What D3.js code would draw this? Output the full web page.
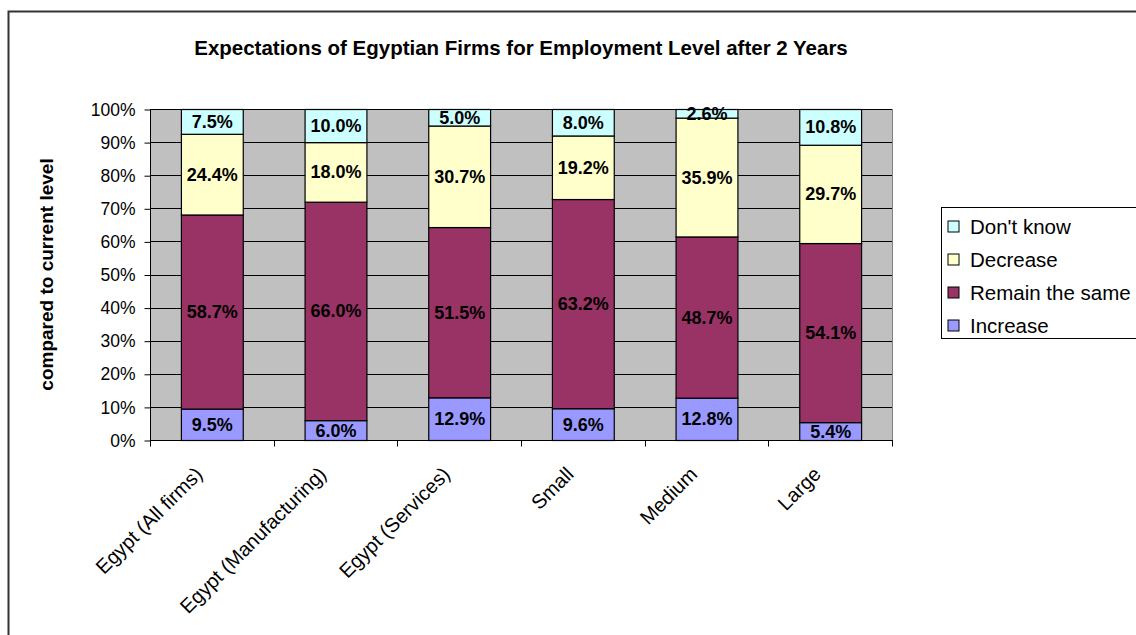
<!DOCTYPE html>
<html>
<head>
<meta charset="utf-8">
<script src="https://cdn.jsdelivr.net/npm/d3@7"></script>
<style>
  html, body { margin: 0; padding: 0; background: #fff; }
  svg { display: block; font-family: Arial, "Liberation Sans", sans-serif; }
</style>
</head>
<body>
<svg id="chart" width="1136" height="635"></svg>
<script>
// Firm-size and sector groups
const categories = ["Egypt (All firms)", "Egypt (Manufacturing)", "Egypt (Services)", "Small", "Medium", "Large"];

// Share of firms (%) by expectation, stacked bottom to top
const increase  = [9.5, 6.0, 12.9, 9.6, 12.8, 5.4];
const remain    = [58.7, 66.0, 51.5, 63.2, 48.7, 54.1];
const decrease  = [24.4, 18.0, 30.7, 19.2, 35.9, 29.7];
const dontKnow  = [7.5, 10.0, 5.0, 8.0, 2.6, 10.8];

const seriesNames = ["Increase", "Remain the same", "Decrease", "Don't know"];
const seriesColors = ["#9999FF", "#993366", "#FFFFCC", "#CCFFFF"];
const yTicks = [0, 10, 20, 30, 40, 50, 60, 70, 80, 90, 100];

const svg = d3.select("#chart");

// Outer frame around the chart object
svg.append("rect")
  .attr("x", 8.5).attr("y", 11.5).attr("width", 1200).attr("height", 700)
  .attr("fill", "#fff").attr("stroke", "#333").attr("stroke-width", 2);

const plot = { left: 150, top: 109, right: 892, bottom: 440 };

const rows = categories.map((c, i) => ({
  cat: c,
  "Increase": increase[i],
  "Remain the same": remain[i],
  "Decrease": decrease[i],
  "Don't know": dontKnow[i]
}));

// 100% stacked: each column is normalised to its own total
const stack = d3.stack().keys(seriesNames).offset(d3.stackOffsetExpand);
const layers = stack(rows);

const x = d3.scaleBand().domain(categories).range([plot.left, plot.right]).paddingInner(0.5).paddingOuter(0.25);
const xBand = d3.scaleBand().domain(categories).range([plot.left, plot.right]);
const y = d3.scaleLinear().domain([0, 1]).range([plot.bottom, plot.top]);

// Plot background
svg.append("rect")
  .attr("x", plot.left).attr("y", plot.top)
  .attr("width", plot.right - plot.left).attr("height", plot.bottom - plot.top)
  .attr("fill", "#C0C0C0");

// Horizontal gridlines
svg.append("g")
  .selectAll("line")
  .data(yTicks.filter(t => t > 0))
  .join("line")
  .attr("x1", plot.left).attr("x2", plot.right)
  .attr("y1", d => Math.round(y(d / 100)) + 0.5)
  .attr("y2", d => Math.round(y(d / 100)) + 0.5)
  .attr("stroke", "#000").attr("stroke-width", 1);

// Right edge of the plot area
svg.append("line")
  .attr("x1", plot.right + 0.5).attr("x2", plot.right + 0.5)
  .attr("y1", plot.top).attr("y2", plot.bottom)
  .attr("stroke", "#808080");

// Stacked bars
const layerG = svg.append("g")
  .selectAll("g")
  .data(layers)
  .join("g")
  .attr("fill", (d, i) => seriesColors[i]);

layerG.selectAll("rect")
  .data(d => d.map(s => ({ key: d.key, s })))
  .join("rect")
  .attr("x", d => x(d.s.data.cat) + 0.5)
  .attr("y", d => y(d.s[1]) + 0.5)
  .attr("width", x.bandwidth())
  .attr("height", d => y(d.s[0]) - y(d.s[1]))
  .attr("stroke", "#000").attr("stroke-width", 1.2);

// Value labels
layerG.selectAll("text")
  .data(d => d.map(s => ({ key: d.key, s })))
  .join("text")
  .attr("x", d => x(d.s.data.cat) + x.bandwidth() / 2 + 0.5)
  .attr("y", d => (y(d.s[0]) + y(d.s[1])) / 2)
  .attr("dy", "0.36em")
  .attr("text-anchor", "middle")
  .attr("font-size", 18).attr("font-weight", "bold").attr("fill", "#000")
  .text(d => d.s.data[d.key].toFixed(1) + "%");

// Y axis
const yAxis = d3.axisLeft(y)
  .tickValues(yTicks.map(t => t / 100))
  .tickFormat(d => Math.round(d * 100) + "%")
  .tickSize(6).tickPadding(9);
const yg = svg.append("g").attr("transform", `translate(${plot.left + 0.5},0.5)`).call(yAxis);
yg.selectAll("text").attr("font-size", 17.5).attr("fill", "#000").attr("font-family", "Arial, 'Liberation Sans', sans-serif");
yg.selectAll("line,path").attr("stroke", "#000");
yg.select(".domain").attr("d", `M0,${plot.top}V${plot.bottom}`);

// X axis with ticks at category boundaries
const xg = svg.append("g").attr("transform", `translate(0,${plot.bottom + 0.5})`);
xg.append("line").attr("x1", plot.left).attr("x2", plot.right + 1).attr("stroke", "#000");
const bounds = categories.map(c => xBand(c)).concat([plot.right]);
xg.selectAll("line.tk")
  .data(bounds)
  .join("line").attr("class", "tk")
  .attr("x1", d => Math.round(d) + 0.5).attr("x2", d => Math.round(d) + 0.5)
  .attr("y1", 0).attr("y2", 6).attr("stroke", "#000");

xg.selectAll("text")
  .data(categories)
  .join("text")
  .attr("transform", d => `translate(${xBand(d) + xBand.bandwidth() / 2 - 8},${35}) rotate(-45)`)
  .attr("text-anchor", "end")
  .attr("font-size", 20).attr("fill", "#000")
  .text(d => d);

// Y axis title
svg.append("text")
  .attr("transform", `translate(53,${(plot.top + plot.bottom) / 2}) rotate(-90)`)
  .attr("text-anchor", "middle")
  .attr("font-size", 19).attr("font-weight", "bold")
  .text("compared to current level");

// Chart title
svg.append("text")
  .attr("x", 521).attr("y", 55)
  .attr("text-anchor", "middle")
  .attr("font-size", 20.5).attr("font-weight", "bold")
  .text("Expectations of Egyptian Firms for Employment Level after 2 Years");

// Legend (top entry is the top of the stack)
const legend = svg.append("g").attr("transform", "translate(941.5,207.5)");
legend.append("rect").attr("width", 220).attr("height", 131)
  .attr("fill", "#fff").attr("stroke", "#000").attr("stroke-width", 1);
const legendItems = seriesNames.map((n, i) => ({ n, c: seriesColors[i] })).reverse();
const li = legend.selectAll("g.item").data(legendItems).join("g").attr("class", "item")
  .attr("transform", (d, i) => `translate(6.5,${19 + i * 33})`);
li.append("rect").attr("x", 0).attr("y", -5.5).attr("width", 11).attr("height", 11)
  .attr("fill", d => d.c).attr("stroke", "#000").attr("stroke-width", 1);
li.append("text").attr("x", 22).attr("y", 0).attr("dy", "0.36em")
  .attr("font-size", 20.5).attr("fill", "#000").text(d => d.n);
</script>
</body>
</html>
